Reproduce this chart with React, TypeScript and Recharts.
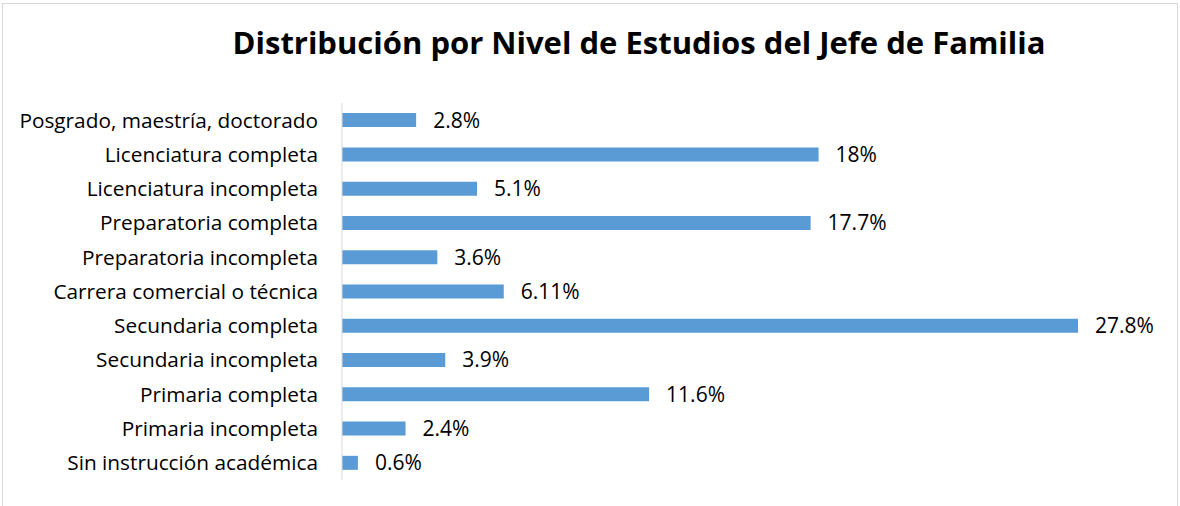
import React from "react";
import { BarChart, Bar, XAxis, YAxis, LabelList } from "recharts";

const categories = [
  "Posgrado, maestría, doctorado",
  "Licenciatura completa",
  "Licenciatura incompleta",
  "Preparatoria completa",
  "Preparatoria incompleta",
  "Carrera comercial o técnica",
  "Secundaria completa",
  "Secundaria incompleta",
  "Primaria completa",
  "Primaria incompleta",
  "Sin instrucción académica",
];
const values = [2.8, 18, 5.1, 17.7, 3.6, 6.11, 27.8, 3.9, 11.6, 2.4, 0.6];
const title = "Distribución por Nivel de Estudios del Jefe de Familia";

const data = categories.map((name, i) => ({ name, value: values[i] }));

const FONT = "'Open Sans', sans-serif";

export default function App() {
  return (
    <div style={{ position: "absolute", left: 0, top: 0, width: 1180, height: 506, background: "#fff", overflow: "hidden", fontFamily: FONT }}>
      <div style={{ position: "absolute", left: 2, top: 3, width: 1176, height: 520, border: "1px solid #d9d9d9", boxSizing: "border-box" }} />
      <div style={{ position: "absolute", left: 0, top: 18, width: 1278, textAlign: "center", fontSize: 31, fontWeight: 700, color: "#000", whiteSpace: "nowrap", lineHeight: "48px" }}>
        {title}
      </div>
      <div style={{ position: "absolute", left: 0, top: 0 }}>
        <BarChart
          width={1180}
          height={506}
          data={data}
          layout="vertical"
          margin={{ top: 103, right: 102, bottom: 26, left: 0 }}
          barCategoryGap="29.5%"
        >
          <XAxis type="number" hide domain={[0, 27.8]} />
          <YAxis
            type="category"
            dataKey="name"
            width={342}
            tickLine={false}
            tickSize={0}
            tickMargin={24}
            axisLine={{ stroke: "#d9d9d9", strokeWidth: 1 }}
            tick={{ fill: "#000", fontSize: 20.8, fontFamily: FONT }}
            interval={0}
          />
          <Bar dataKey="value" fill="#5b9bd5" isAnimationActive={false}>
            <LabelList
              dataKey="value"
              position="right"
              offset={17}
              formatter={(v: any) => `${v}%`}
              style={{ fill: "#000", fontSize: 21, fontFamily: FONT }}
            />
          </Bar>
        </BarChart>
      </div>
    </div>
  );
}
